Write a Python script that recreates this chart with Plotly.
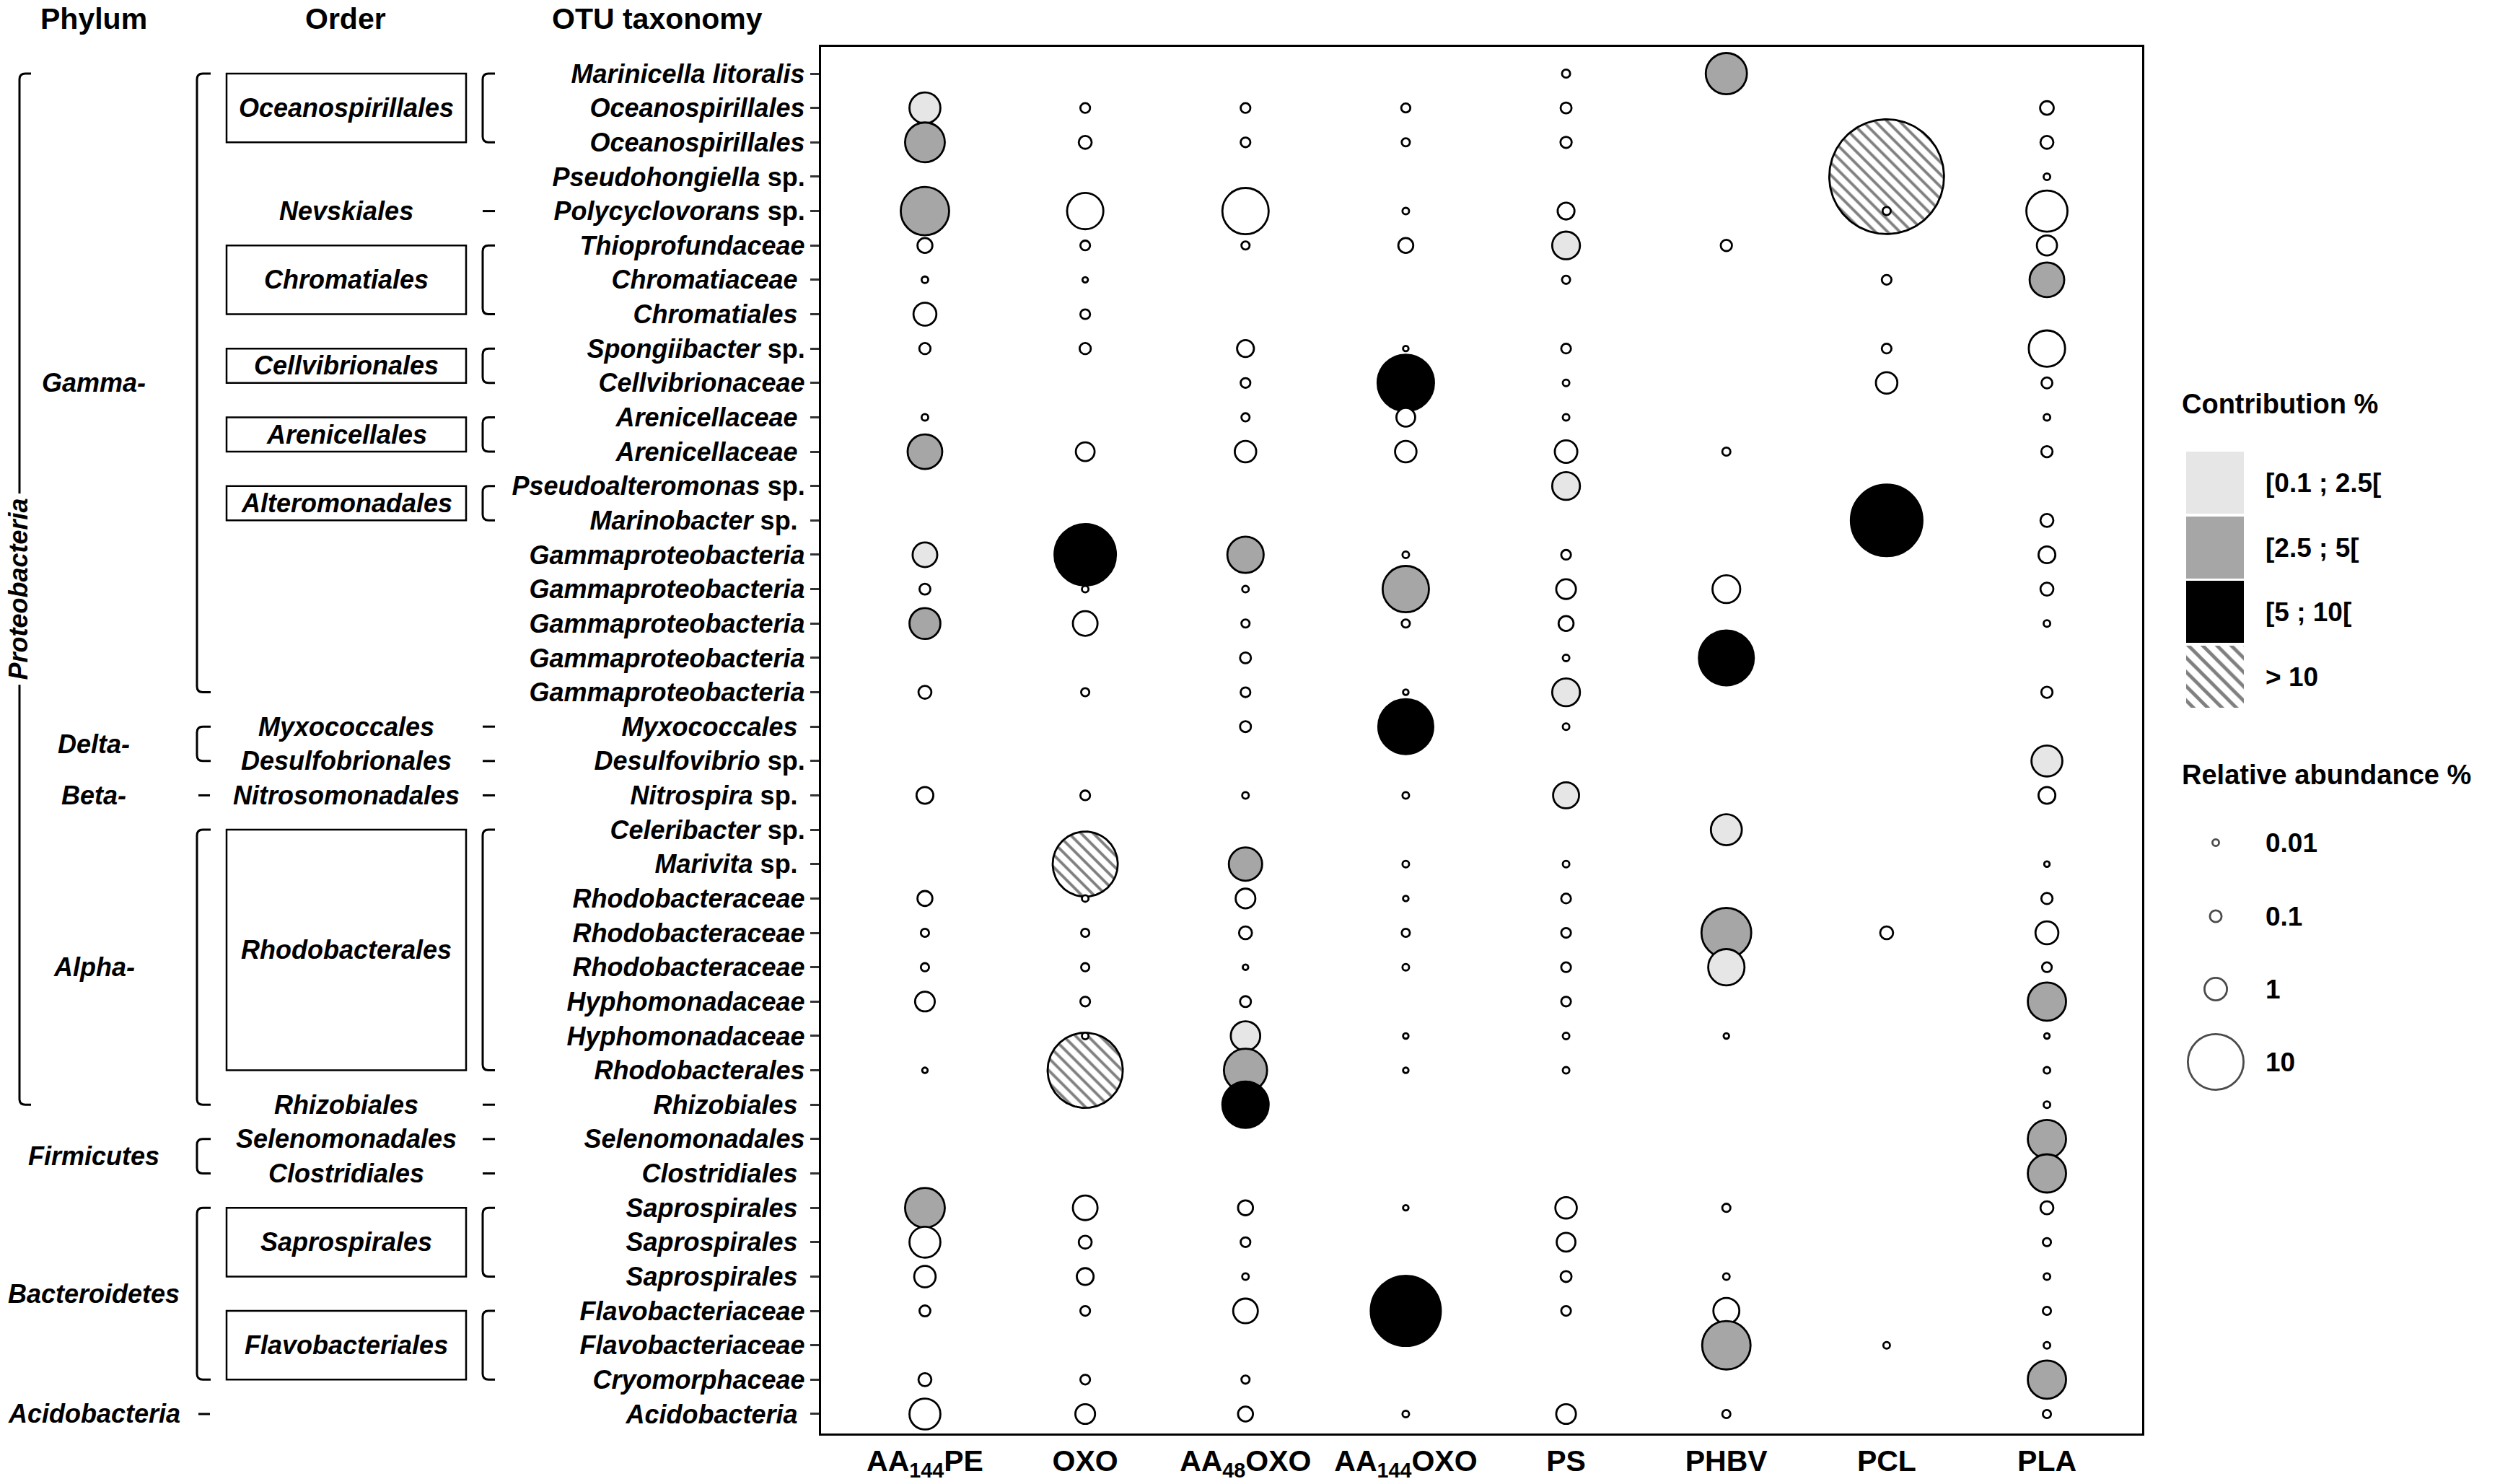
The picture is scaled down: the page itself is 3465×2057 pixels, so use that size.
import numpy as np
import plotly.graph_objects as go

FIG_W, FIG_H = 3465, 2057
BOX_L, BOX_R, BOX_T, BOX_B = 1138, 2969, 65, 1987
FONT = "Liberation Sans, Arial, sans-serif"

polymers = ["AA<sub>144</sub>PE", "OXO", "AA<sub>48</sub>OXO", "AA<sub>144</sub>OXO",
            "PS", "PHBV", "PCL", "PLA"]

otu_taxonomy = [
    "<i>Marinicella litoralis</i>", "<i>Oceanospirillales</i>", "<i>Oceanospirillales</i>",
    "<i>Pseudohongiella</i> sp.", "<i>Polycyclovorans</i> sp.", "<i>Thioprofundaceae</i>",
    "<i>Chromatiaceae</i>&nbsp;", "<i>Chromatiales</i>&nbsp;", "<i>Spongiibacter</i> sp.",
    "<i>Cellvibrionaceae</i>", "<i>Arenicellaceae</i>&nbsp;", "<i>Arenicellaceae</i>&nbsp;",
    "<i>Pseudoalteromonas</i> sp.", "<i>Marinobacter</i> sp.&nbsp;",
    "<i>Gammaproteobacteria</i>", "<i>Gammaproteobacteria</i>", "<i>Gammaproteobacteria</i>",
    "<i>Gammaproteobacteria</i>", "<i>Gammaproteobacteria</i>",
    "<i>Myxococcales</i>&nbsp;", "<i>Desulfovibrio</i> sp.", "<i>Nitrospira</i> sp.&nbsp;",
    "<i>Celeribacter</i> sp.", "<i>Marivita</i> sp.&nbsp;",
    "<i>Rhodobacteraceae</i>", "<i>Rhodobacteraceae</i>", "<i>Rhodobacteraceae</i>",
    "<i>Hyphomonadaceae</i>", "<i>Hyphomonadaceae</i>", "<i>Rhodobacterales</i>",
    "<i>Rhizobiales</i>&nbsp;", "<i>Selenomonadales</i>", "<i>Clostridiales</i>&nbsp;",
    "<i>Saprospirales</i>&nbsp;", "<i>Saprospirales</i>&nbsp;", "<i>Saprospirales</i>&nbsp;",
    "<i>Flavobacteriaceae</i>", "<i>Flavobacteriaceae</i>", "<i>Cryomorphaceae</i>",
    "<i>Acidobacteria</i>&nbsp;",
]

N = None
# relative abundance (%) of each OTU (row order above) on each polymer
abund_AA144PE = [N, 2.4, 4.5, N, 7.2, 0.2, 0.01, 1.05, 0.08, N,
                 0.01, 3.2, N, N, 1.3, 0.07, 2.4, N, 0.13, N,
                 N, 0.3, N, N, 0.2, 0.02, 0.02, 0.55, N, 0.006,
                 N, N, N, 4.5, 2.4, 0.8, 0.07, N, 0.13, 2.4]
abund_OXO = [N, 0.04, 0.13, N, 3.6, 0.04, 0.006, 0.04, 0.08, N,
             N, 0.45, N, N, 12.5, 0.01, 1.3, N, 0.02, N,
             N, 0.04, N, 14.2, 0.01, 0.02, 0.02, 0.04, 0.01, 19.6,
             N, N, N, 1.3, 0.13, 0.3, 0.04, N, 0.04, 0.55]
abund_AA48OXO = [N, 0.04, 0.04, N, 6.5, 0.02, N, N, 0.3, 0.04,
                 0.02, 0.8, N, N, 3.6, 0.01, 0.02, 0.07, 0.04, 0.07,
                 N, 0.01, N, 2.9, 0.55, 0.13, 0.006, 0.07, 2.1, 5.5,
                 6.5, N, N, 0.2, 0.04, 0.01, 1.3, N, 0.02, 0.2]
abund_AA144OXO = [N, 0.03, 0.02, N, 0.01, 0.2, N, N, 0.006, 10.3,
                  0.45, 0.8, N, N, 0.01, 6.5, 0.02, N, 0.006, 9.7,
                  N, 0.01, N, 0.01, 0.006, 0.02, 0.01, N, 0.006, 0.006,
                  N, N, N, 0.006, N, N, 16.8, N, N, 0.01]
abund_PS = [0.02, 0.07, 0.08, N, 0.3, 1.8, 0.02, N, 0.04, 0.01,
            0.01, 1.0, 1.8, N, 0.04, 0.55, 0.2, 0.01, 1.8, 0.01,
            N, 1.5, N, 0.01, 0.04, 0.04, 0.04, 0.04, 0.01, 0.01,
            N, N, N, 0.8, 0.45, 0.07, 0.04, N, N, 0.55]
abund_PHBV = [4.9, N, N, N, N, 0.08, N, N, N, N,
              N, 0.02, N, N, N, 1.8, N, 9.7, N, N,
              N, N, 2.4, N, N, 7.7, 3.6, N, 0.006, N,
              N, N, N, 0.02, N, 0.01, 1.5, 7.2, N, 0.02]
abund_PCL = [N, N, N, 49.0, 0.02, N, 0.04, N, 0.04, 0.8,
             N, N, N, 17.6, N, N, N, N, N, N,
             N, N, N, N, N, 0.13, N, N, N, N,
             N, N, N, N, N, N, N, 0.01, N, N]
abund_PLA = [N, 0.15, 0.13, 0.01, 4.9, 0.6, 3.2, N, 3.6, 0.07,
             0.01, 0.08, N, 0.13, 0.3, 0.13, 0.01, N, 0.08, N,
             2.4, 0.3, N, 0.006, 0.08, 1.05, 0.04, 4.1, 0.006, 0.01,
             0.01, 4.1, 4.1, 0.13, 0.02, 0.01, 0.02, 0.01, 4.1, 0.02]

# contribution class: W <0.1, L [0.1;2.5[, G [2.5;5[, B [5;10[, H >10, - absent
contrib_AA144PE = "- L G - G W W W W - | W G - - L W G - W - | - W - - W W W W - W | - - - G W W W - W W"
contrib_OXO = "- W W - W W W W W - | - W - - B W W - W - | - W - H W W W W W H | - - - W W W W - W W"
contrib_AA48OXO = "- W W - W W - - W W | W W - - G W W W W W | - W - G W W W W L G | B - - W W W W - W W"
contrib_AA144OXO = "- W W - W W - - W B | W W - - W G W - W B | - W - W W W W - W W | - - - W - - B - - W"
contrib_PS = "W W W - W L W - W W | W W L - W W W W L W | - L - W W W W W W W | - - - W W W W - - W"
contrib_PHBV = "G - - - - W - - - - | - W - - - W - B - - | - - L - - G L - W - | - - - W - W W G - W"
contrib_PCL = "- - - H W - W - W W | - - - B - - - - - - | - - - - - W - - - - | - - - - - - - W - -"
contrib_PLA = "- W W W W W G - W W | W W - W W W W - W - | L W - W W W W G W W | W G G W W W W W G W"

legend_classes = ["[0.1 ; 2.5[", "[2.5 ; 5[", "[5 ; 10[", "> 10"]
legend_abund = [0.01, 0.1, 1, 10]

abund_cols = [abund_AA144PE, abund_OXO, abund_AA48OXO, abund_AA144OXO,
              abund_PS, abund_PHBV, abund_PCL, abund_PLA]
contrib_cols = [[t for t in s.split() if t != "|"] for s in
                [contrib_AA144PE, contrib_OXO, contrib_AA48OXO, contrib_AA144OXO,
                 contrib_PS, contrib_PHBV, contrib_PCL, contrib_PLA]]

COLORS = {"W": "#ffffff", "L": "#e6e6e6", "G": "#a6a6a6", "B": "#000000"}
LW = 2.8

X_RANGE = [-0.648, 7.594]
Y_RANGE = [40.567, 0.223]
PX_X = (BOX_R - BOX_L) / (X_RANGE[1] - X_RANGE[0])
PX_Y = (BOX_B - BOX_T) / (Y_RANGE[0] - Y_RANGE[1])


def diam(v):
    """visible bubble diameter in px for a relative abundance (%)"""
    if v <= 1:
        return float(np.interp(np.log10(v), [-3, -2, -1, 0], [5, 12, 19, 34]))
    return 12.7 + 21.3 * np.sqrt(v)


fig = go.Figure()
rows = list(range(1, len(otu_taxonomy) + 1))

# hatched (>10 %) bubbles first
for c, (ab, cl) in enumerate(zip(abund_cols, contrib_cols)):
    for r, v, k in zip(rows, ab, cl):
        if v is None or k != "H":
            continue
        rad = diam(v) / 2 - LW / 2
        t = np.linspace(0, 2 * np.pi, 181)
        fig.add_trace(go.Scatter(
            x=c + rad / PX_X * np.cos(t), y=r + rad / PX_Y * np.sin(t),
            mode="lines", fill="toself", fillcolor="white",
            fillpattern=dict(shape="\\", fgcolor="black", bgcolor="white",
                             size=12, solidity=0.32),
            line=dict(color="black", width=LW), hoverinfo="skip", showlegend=False,
            xaxis="x", yaxis="y"))

# other bubbles, drawn row by row so lower rows overlap upper ones
bx, by, bs, bc = [], [], [], []
for r in rows:
    for c, (ab, cl) in enumerate(zip(abund_cols, contrib_cols)):
        v, k = ab[r - 1], cl[r - 1]
        if v is None or k in ("-", "H"):
            continue
        bx.append(c); by.append(r); bs.append(diam(v) - LW); bc.append(COLORS[k])
fig.add_trace(go.Scatter(
    x=bx, y=by, mode="markers",
    marker=dict(size=bs, color=bc, line=dict(color="black", width=LW), opacity=1),
    hoverinfo="skip", showlegend=False, xaxis="x", yaxis="y"))

# ---------- legend (pixel axis x2/y2) ----------
LEG_SW_X0, LEG_SW_X1 = 3030, 3110
sw_y = [(626, 712), (716, 802), (805, 891), (895, 981)]
shapes = []
for (y0, y1), k in zip(sw_y[:3], ["L", "G", "B"]):
    shapes.append(dict(type="rect", xref="x2", yref="y2", x0=LEG_SW_X0, x1=LEG_SW_X1,
                       y0=y0, y1=y1, fillcolor=COLORS[k], line=dict(width=0)))
y0, y1 = sw_y[3]
fig.add_trace(go.Scatter(
    x=[LEG_SW_X0, LEG_SW_X1, LEG_SW_X1, LEG_SW_X0, LEG_SW_X0], y=[y0, y0, y1, y1, y0],
    mode="lines", fill="toself", fillcolor="white",
    fillpattern=dict(shape="\\", fgcolor="black", bgcolor="white", size=14, solidity=0.34),
    line=dict(width=0, color="rgba(0,0,0,0)"), hoverinfo="skip", showlegend=False,
    xaxis="x2", yaxis="y2"))
leg_circle_y = [1168, 1270, 1371, 1472]
fig.add_trace(go.Scatter(
    x=[3071] * 4, y=leg_circle_y, mode="markers",
    marker=dict(size=[diam(v) - LW for v in legend_abund], color="white",
                line=dict(color="black", width=LW)),
    hoverinfo="skip", showlegend=False, xaxis="x2", yaxis="y2"))

annotations = []


def txt(x, y, s, size=36, italic=False, xref="x2", yref="y2", xanchor="center", **kw):
    annotations.append(dict(
        x=x, y=y, xref=xref, yref=yref, text=s, showarrow=False, xanchor=xanchor,
        yanchor="middle",
        font=dict(family=FONT, size=size, color="black", weight="bold",
                  style="italic" if italic else "normal"), **kw))


txt(3022, 560, "Contribution %", size=38, xanchor="left")
for (ya, yb), s in zip(sw_y, legend_classes):
    txt(3138, (ya + yb) / 2, s, size=37, xanchor="left")
txt(3022, 1074, "Relative abundance %", size=38, xanchor="left")
for yy, v in zip(leg_circle_y, legend_abund):
    txt(3138, yy, f"{v:g}", size=37, xanchor="left")

# ---------- left taxonomy panel ----------
txt(130, 26, "Phylum", size=41)
txt(479, 26, "Order", size=41)
txt(911, 26, "OTU taxonomy", size=41)

phyla = [("Gamma-", 10), ("Delta-", 20.5), ("Beta-", 22), ("Alpha-", 27),
         ("Firmicutes", 32.5), ("Bacteroidetes", 36.5), ("Acidobacteria", 40)]
for s, r in phyla:
    txt(130, r, s, italic=True, yref="y")

orders = [("Oceanospirillales", 2), ("Nevskiales", 5), ("Chromatiales", 7),
          ("Cellvibrionales", 9.5), ("Arenicellales", 11.5), ("Alteromonadales", 13.5),
          ("Myxococcales", 20), ("Desulfobrionales", 21), ("Nitrosomonadales", 22),
          ("Rhodobacterales", 26.5), ("Rhizobiales", 31), ("Selenomonadales", 32),
          ("Clostridiales", 33), ("Saprospirales", 35), ("Flavobacteriales", 38)]
for s, r in orders:
    txt(480, r, s, italic=True, yref="y")

order_boxes = [(1, 3), (6, 8), (9, 10), (11, 12), (13, 14), (23, 30), (34, 36), (37, 39)]
for r0, r1 in order_boxes:
    shapes.append(dict(type="rect", xref="x2", yref="y", x0=314, x1=646, y0=r0, y1=r1,
                       line=dict(color="black", width=2.5), fillcolor="rgba(0,0,0,0)"))


def bracket(x0, r0, r1, hook=17, rad=8):
    cy = rad / PX_Y
    p = (f"M {x0 + hook},{r0} L {x0 + rad},{r0} Q {x0},{r0} {x0},{r0 + cy} "
         f"L {x0},{r1 - cy} Q {x0},{r1} {x0 + rad},{r1} L {x0 + hook},{r1}")
    shapes.append(dict(type="path", xref="x2", yref="y", path=p,
                       line=dict(color="black", width=3)))


def dash(xa, xb, r):
    shapes.append(dict(type="line", xref="x2", yref="y", x0=xa, x1=xb, y0=r, y1=r,
                       line=dict(color="black", width=3)))


bracket(27, 1, 31, hook=16)            # Proteobacteria
for r0, r1 in [(1, 19), (20, 21), (23, 31), (32, 33), (34, 39)]:
    bracket(273, r0, r1, hook=19)
for r0, r1 in order_boxes:
    bracket(669, r0, r1, hook=17)
for r in (22, 40):
    dash(275, 291, r)
for r in (5, 20, 21, 22, 31, 32, 33):
    dash(669, 686, r)

txt(26, 16, "Proteobacteria", size=36, italic=True, yref="y", textangle=-90,
    bgcolor="white", borderpad=6)

fig.update_layout(
    width=FIG_W, height=FIG_H, margin=dict(l=0, r=0, t=0, b=0),
    paper_bgcolor="white", plot_bgcolor="rgba(0,0,0,0)",
    shapes=shapes, annotations=annotations, showlegend=False,
    xaxis=dict(domain=[BOX_L / FIG_W, BOX_R / FIG_W], range=X_RANGE,
               tickmode="array", tickvals=list(range(len(polymers))), ticktext=polymers,
               showline=True, mirror=True, linecolor="black", linewidth=3.3,
               ticks="", showgrid=False, zeroline=False, anchor="y",
               tickfont=dict(family=FONT, size=41, color="black", weight="bold")),
    yaxis=dict(domain=[1 - BOX_B / FIG_H, 1 - BOX_T / FIG_H], range=Y_RANGE,
               tickmode="array", tickvals=rows, ticktext=otu_taxonomy,
               showline=True, mirror=True, linecolor="black", linewidth=3.3,
               ticks="outside", ticklen=12, tickwidth=3, tickcolor="#333333",
               showgrid=False, zeroline=False, anchor="x",
               tickfont=dict(family=FONT, size=36, color="black", weight="bold")),
    xaxis2=dict(domain=[0, 1], range=[0, FIG_W], visible=False, anchor="y2"),
    yaxis2=dict(domain=[0, 1], range=[FIG_H, 0], visible=False, anchor="x2"),
)

fig.write_html("out.html", config={"displayModeBar": False},
               post_script="document.body.style.margin='0';document.body.style.padding='0';")
